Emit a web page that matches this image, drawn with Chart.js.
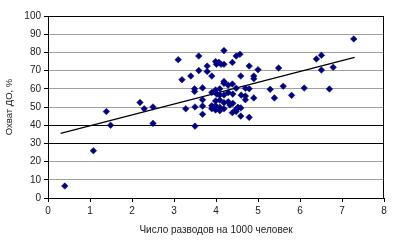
<!DOCTYPE html>
<html>
<head>
<meta charset="utf-8">
<script src="https://cdn.jsdelivr.net/npm/chart.js@4"></script>
<style>
html,body{margin:0;padding:0;background:#fff;}
#wrap{width:397px;height:243px;}
</style>
</head>
<body>
<div id="wrap"><canvas id="c" width="397" height="243"></canvas></div>
<script>
const xValues = [0.4,1.08,1.39,1.49,2.19,2.29,2.5,2.5,3.1,3.19,3.28,3.4,3.49,3.49,3.5,3.5,3.59,3.59,3.68,3.68,3.68,3.68,3.79,3.79,3.9,3.9,3.9,3.99,4.01,4.07,4.12,4.19,4.19,3.99,4.02,4.09,4.19,4.19,4.19,4.29,4.39,4.39,4.48,4.57,4.48,4.59,4.6,4.7,4.7,4.79,4.79,4.9,4.9,4.9,5.0,4.79,4.59,4.48,4.53,4.59,4.4,3.99,4.09,4.19,4.29,4.33,4.4,3.99,4.09,4.19,4.48,4.52,3.9,3.99,4.09,4.39,4.09,4.29,4.7,5.29,5.39,5.49,5.6,5.8,6.1,6.39,6.51,6.51,6.7,6.79,7.28];
const yValues = [6.6,26,47.5,40,52.5,49,50,41,76,65,49,67,60,58.5,50,39.5,78,70,60.5,54,50.5,46,72.5,69.5,67,58,50.7,75,73.5,74.5,73.5,73.5,81,59.3,57,56.6,56.6,64,63,57.9,62.6,74.5,78,79,60.3,67,56.5,56,54,72.5,60,67,65.5,55,70.5,44.3,45,47.5,49.7,49.5,57.1,53.3,53.8,52.4,52.9,51.1,52,50.7,49.9,49,48.7,49.7,49,48.4,48,46.9,60,62,60.3,59.7,55,71.4,61.4,56.4,60.4,76.4,78.4,70.3,59.9,71.8,87.4];
const trendX = [0.3, 7.3];
const trendY = [35.5, 77.3];
const xTicks = [0,1,2,3,4,5,6,7,8];
const yTicks = [0,10,20,30,40,50,60,70,80,90,100];
const xTitle = 'Число разводов на 1000 человек';
const yTitle = 'Охват ДО, %';

const points = xValues.map((x,i)=>({x:x,y:yValues[i]}));
const trend = trendX.map((x,i)=>({x:x,y:trendY[i]}));

const framePlugin = {
  id:'frame',
  afterDatasetsDraw(chart){
    const a = chart.chartArea, ctx = chart.ctx;
    ctx.save();
    ctx.strokeStyle = '#000';
    ctx.lineWidth = 1;
    ctx.strokeRect(Math.round(a.left)+0.5, Math.round(a.top)+0.5, Math.round(a.right-a.left)-1, Math.round(a.bottom-a.top));
    ctx.restore();
  }
};

new Chart(document.getElementById('c'), {
  type:'scatter',
  data:{
    datasets:[
      {
        type:'line',
        data:trend,
        borderColor:'#000',
        borderWidth:1.2,
        pointRadius:0,
        fill:false,
        order:2
      },
      {
        data:points,
        pointStyle:'rectRot',
        pointRadius:3.3,
        backgroundColor:'#000080',
        borderColor:'#000080',
        borderWidth:0.5,
        order:1
      }
    ]
  },
  options:{
    responsive:false,
    animation:false,
    devicePixelRatio:1,
    layout:{padding:{left:0,right:13,top:16,bottom:0}},
    plugins:{legend:{display:false},tooltip:{enabled:false}},
    scales:{
      x:{
        type:'linear',
        min:0,max:8,
        afterBuildTicks(s){ s.ticks = xTicks.map(v=>({value:v})); },
        afterFit(s){ s.height = 45; },
        grid:{drawOnChartArea:false,drawTicks:true,tickLength:4,tickColor:'#000'},
        border:{color:'#000',width:1},
        ticks:{padding:3,color:'#222',font:{family:'Liberation Sans, Arial, sans-serif',size:10}},
        title:{display:true,text:xTitle,color:'#222',padding:{top:2,bottom:7},font:{family:'Liberation Sans, Arial, sans-serif',size:10}}
      },
      y:{
        type:'linear',
        min:0,max:100,
        afterBuildTicks(s){ s.ticks = yTicks.map(v=>({value:v})); },
        afterFit(s){ s.width = 48; },
        grid:{
          drawTicks:true,tickLength:4,tickColor:'#000',
          color:(c)=> (c.tick && (c.tick.value===30 || c.tick.value===40)) ? '#000' : '#a0a0a0',
          lineWidth:1
        },
        border:{color:'#000',width:1},
        ticks:{padding:3,color:'#222',font:{family:'Liberation Sans, Arial, sans-serif',size:10}},
        title:{display:true,text:yTitle,color:'#222',padding:{top:4,bottom:0},font:{family:'Liberation Sans, Arial, sans-serif',size:9.5}}
      }
    }
  },
  plugins:[framePlugin]
});
</script>
</body>
</html>
